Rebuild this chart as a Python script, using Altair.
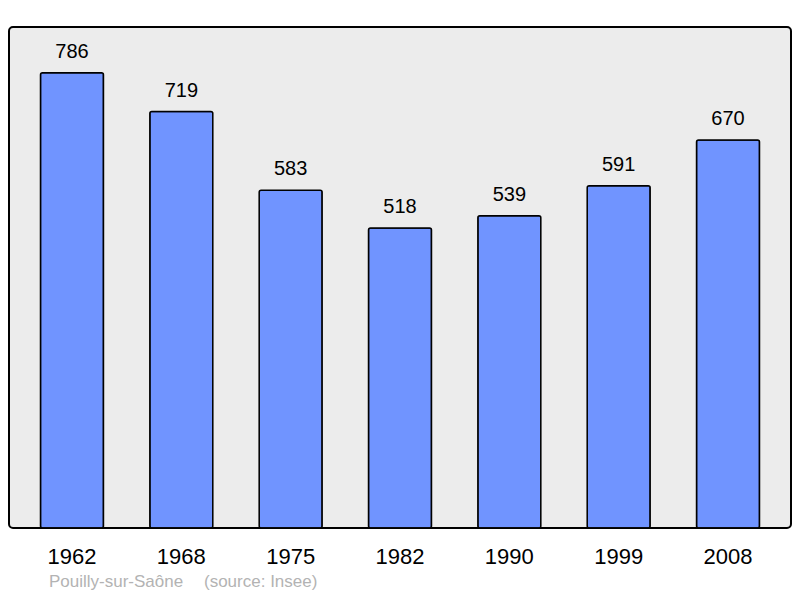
import altair as alt
import pandas as pd

years = ["1962", "1968", "1975", "1982", "1990", "1999", "2008"]
population = [786, 719, 583, 518, 539, 591, 670]
commune = ["Pouilly-sur-Saône"]
source = ["(source: Insee)"]

df = pd.DataFrame({"year": years, "pop": population})

FONT = "Liberation Sans"

x = alt.X("year:N", sort=years,
          scale=alt.Scale(paddingInner=0.424, paddingOuter=0.288),
          axis=alt.Axis(title=None, ticks=False, domain=False, labelAngle=0,
                        labelFontSize=22, labelColor="#000000", labelFont=FONT,
                        labelPadding=18, grid=False))
y = alt.Y("pop:Q", scale=alt.Scale(domain=[0, 865], nice=False, zero=True),
          axis=None)

bars = alt.Chart(df).mark_bar(
    color="#7094ff", stroke="#000000", strokeWidth=1.5, cornerRadius=2
).encode(x=x, y=y)

labels = alt.Chart(df).mark_text(
    baseline="alphabetic", dy=-15, fontSize=20, font=FONT, color="#000000"
).encode(x=x, y=y, text="pop:Q")

src1 = alt.Chart(pd.DataFrame({"t": commune})).mark_text(
    align="left", baseline="alphabetic", fontSize=17, font=FONT, color="#b3b3b3"
).encode(x=alt.value(40), y=alt.value(560), text="t:N")

src2 = alt.Chart(pd.DataFrame({"t": source})).mark_text(
    align="left", baseline="alphabetic", fontSize=17, font=FONT, color="#b3b3b3"
).encode(x=alt.value(195), y=alt.value(560), text="t:N")

chart = alt.layer(bars, labels, src1, src2).properties(
    width=782, height=501,
    padding={"left": 1, "top": 19, "right": 1, "bottom": 62},
    autosize=alt.AutoSizeParams(type="none"),
    background="#ffffff",
).configure_view(
    fill="#ececec", stroke="#000000", strokeWidth=2, cornerRadius=4
)

chart.save("out.html", embed_options={"renderer": "svg", "actions": False})
